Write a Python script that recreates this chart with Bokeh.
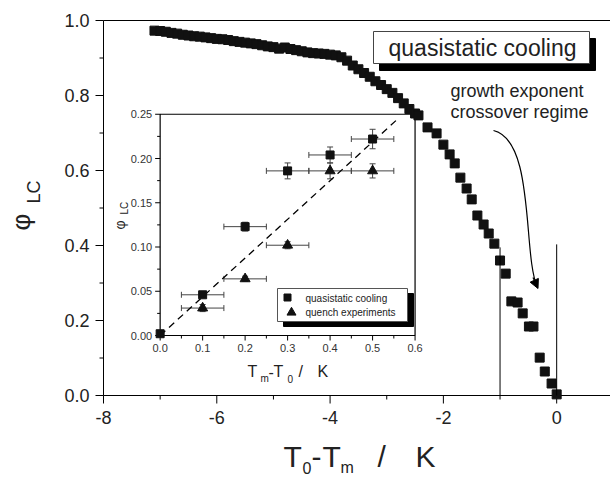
import numpy as np
from bokeh.plotting import figure
from bokeh.models import Range1d, Whisker, TeeHead, ColumnDataSource, Arrow, NormalHead
from bokeh.core.properties import value
from bokeh.embed import file_html
from bokeh.resources import INLINE

# ---------------- main data (T0 - Tm in K, phi_LC) ----------------
t0_minus_tm = [-7.1, -7.0, -6.9, -6.8, -6.7, -6.6, -6.5, -6.4, -6.3, -6.2, -6.1, -6.0,
               -5.9, -5.8, -5.7, -5.6, -5.5, -5.4, -5.3, -5.2, -5.1, -5.0, -4.9, -4.8,
               -4.7, -4.6, -4.5, -4.4, -4.3, -4.2, -4.1, -4.0, -3.9, -3.8, -3.7, -3.6,
               -3.5, -3.4, -3.3, -3.2, -3.1, -3.0, -2.9, -2.8, -2.7, -2.6, -2.5, -2.44,
               -2.28, -2.12, -2.0, -1.89, -1.8, -1.7, -1.59, -1.5, -1.4, -1.29, -1.2,
               -1.1, -1.0, -0.9, -0.8, -0.69, -0.6, -0.49, -0.41, -0.3, -0.21, -0.09, 0.0]
phi_lc = [0.973, 0.972, 0.970, 0.967, 0.965, 0.962, 0.960, 0.958, 0.957, 0.955, 0.953, 0.951,
          0.950, 0.948, 0.945, 0.943, 0.941, 0.939, 0.937, 0.934, 0.931, 0.929, 0.925, 0.928,
          0.924, 0.921, 0.918, 0.915, 0.913, 0.912, 0.911, 0.909, 0.907, 0.902, 0.893, 0.880,
          0.870, 0.860, 0.850, 0.838, 0.828, 0.817, 0.807, 0.793, 0.779, 0.764, 0.752, 0.747,
          0.715, 0.699, 0.669, 0.643, 0.619, 0.581, 0.552, 0.523, 0.480, 0.456, 0.432,
          0.405, 0.360, 0.325, 0.251, 0.248, 0.219, 0.184, 0.184, 0.101, 0.064, 0.032, 0.003]

# crossover regime markers
marker_x = [-1.0, 0.0]
marker_top = [0.395, 0.403]

# main axes
main_x_range = (-8.0, 0.95)
main_y_range = (0.0, 1.0)
main_x_major = [-8, -6, -4, -2, 0]
main_x_minor = [-7, -5, -3, -1]
main_y_major = [0.0, 0.2, 0.4, 0.6, 0.8, 1.0]
main_y_minor = [0.1, 0.3, 0.5, 0.7, 0.9]

# ---------------- inset data (Tm - T0 in K, phi_LC) ----------------
quasi_dT = [0.0, 0.1, 0.2, 0.3, 0.4, 0.5]
quasi_phi = [0.002, 0.046, 0.123, 0.186, 0.204, 0.222]
quasi_dT_err = [0.0, 0.05, 0.05, 0.05, 0.05, 0.05]
quasi_phi_err = [0.0, 0.002, 0.005, 0.009, 0.009, 0.011]
quench_dT = [0.1, 0.2, 0.3, 0.4, 0.5]
quench_phi = [0.031, 0.064, 0.102, 0.186, 0.186]
quench_dT_err = [0.05, 0.05, 0.05, 0.05, 0.05]
quench_phi_err = [0.004, 0.003, 0.004, 0.009, 0.008]
fit_dT = [0.0, 0.56]
fit_phi = [0.0, 0.245]

inset_x_range = (0.0, 0.6)
inset_y_range = (0.0, 0.25)
inset_x_major = [0.0, 0.1, 0.2, 0.3, 0.4, 0.5, 0.6]
inset_x_minor = [0.05, 0.15, 0.25, 0.35, 0.45, 0.55]
inset_y_major = [0.0, 0.05, 0.10, 0.15, 0.20, 0.25]
inset_y_minor = [0.025, 0.075, 0.125, 0.175, 0.225]

# ---------------- layout (pixel geometry of the picture) ----------------
FONT = "Liberation Sans"
TXT = "#222222"
W, H = 610, 477
AX_L, AX_R, AX_T, AX_B = 103, 610, 20, 395   # main axes box in pixels
X0, X1 = main_x_range
Y0, Y1 = main_y_range
MPX = (AX_R - AX_L) / (X1 - X0)
MPY = (AX_B - AX_T) / (Y1 - Y0)
VX0 = X0 - AX_L / MPX
VX1 = X1 + (W - AX_R) / MPX
VY0 = Y0 - (H - AX_B) / MPY
VY1 = Y1 + AX_T / MPY


def mx(px):  # picture pixel -> main data x
    return X0 + (px - AX_L) / MPX


def my(py):  # picture pixel -> main data y
    return Y1 - (py - AX_T) / MPY


# inset box placement in main data coordinates
IBX = (-7.0, -2.5)
IBY = (0.16, 0.75)
sx = (IBX[1] - IBX[0]) / (inset_x_range[1] - inset_x_range[0])
sy = (IBY[1] - IBY[0]) / (inset_y_range[1] - inset_y_range[0])
IPX = MPX * sx
IPY = MPY * sy

p = figure(width=W, height=H, x_range=Range1d(VX0, VX1), y_range=Range1d(VY0, VY1),
           output_backend="svg", toolbar_location=None, x_axis_type=None, y_axis_type=None,
           min_border_left=0, min_border_right=0, min_border_top=0, min_border_bottom=0)
p.extra_x_ranges = {"ix": Range1d(inset_x_range[0] + (VX0 - IBX[0]) / sx,
                                  inset_x_range[0] + (VX1 - IBX[0]) / sx)}
p.extra_y_ranges = {"iy": Range1d(inset_y_range[0] + (VY0 - IBY[0]) / sy,
                                  inset_y_range[0] + (VY1 - IBY[0]) / sy)}
p.grid.visible = False
p.outline_line_color = None
p.background_fill_color = "white"
p.border_fill_color = "white"


def txt(x, y, s, size, align="left", angle=0.0, color=TXT, **kw):
    p.text(x=x, y=y, text=s, angle=angle, text_align=align, text_baseline="middle",
           text_font=value(FONT), text_font_size=f"{size}px", text_color=color, **kw)


# ---------------- main axes ----------------
p.segment(x0=[X0, X0, X0], y0=[Y0, Y0, Y1], x1=[X0, X1, X1], y1=[Y1, Y0, Y1],
          line_color="black", line_width=1)
p.segment(x0=main_x_major, y0=[Y0] * len(main_x_major), x1=main_x_major,
          y1=[Y0 - 8 / MPY] * len(main_x_major), line_color="black", line_width=1)
p.segment(x0=main_x_minor, y0=[Y0] * len(main_x_minor), x1=main_x_minor,
          y1=[Y0 - 4 / MPY] * len(main_x_minor), line_color="black", line_width=1)
p.segment(x0=[X0] * len(main_y_major), y0=main_y_major, x1=[X0 - 8 / MPX] * len(main_y_major),
          y1=main_y_major, line_color="black", line_width=1)
p.segment(x0=[X0] * len(main_y_minor), y0=main_y_minor, x1=[X0 - 4 / MPX] * len(main_y_minor),
          y1=main_y_minor, line_color="black", line_width=1)
txt(main_x_major, [Y0 - 22 / MPY] * len(main_x_major), [f"{v:d}" for v in main_x_major], 18, "center")
txt([X0 - 14 / MPX] * len(main_y_major), main_y_major, [f"{v:.1f}" for v in main_y_major], 18, "right")

# main axis titles (rotated text anchored at its start, i.e. its lower end)
txt([mx(20)], [my(230)], ["φ"], 26, "left", np.pi / 2)
txt([mx(33)], [my(203)], ["LC"], 18, "left", np.pi / 2)
main_xt = [("T", 283, 456, 30), ("0", 302, 467, 16), ("-", 311, 456, 30), ("T", 322, 456, 30),
           ("m", 340, 467, 16), ("/", 377, 456, 30), ("K", 415, 456, 30)]
for t, px, py, fs in main_xt:
    txt([mx(px)], [my(py)], [t], fs)

IR = dict(x_range_name="ix", y_range_name="iy")

# ---------------- inset ----------------
p.quad(left=[inset_x_range[0]], right=[inset_x_range[1]], bottom=[inset_y_range[0]],
       top=[inset_y_range[1]], fill_color=None, line_color="black", line_width=1.2, **IR)


def ticks_x(vals, length):
    p.segment(x0=vals, y0=[inset_y_range[0]] * len(vals), x1=vals,
              y1=[inset_y_range[0] - length / IPY] * len(vals), line_color="black", line_width=1, **IR)


def ticks_y(vals, length):
    p.segment(x0=[inset_x_range[0]] * len(vals), y0=vals,
              x1=[inset_x_range[0] - length / IPX] * len(vals), y1=vals, line_color="black", line_width=1, **IR)


ticks_x(inset_x_major, 5)
ticks_x(inset_x_minor, 3)
ticks_y(inset_y_major, 5)
ticks_y(inset_y_minor, 3)

txt(inset_x_major, [inset_y_range[0] - 12 / IPY] * len(inset_x_major),
    [f"{v:.1f}" for v in inset_x_major], 11, "center", color="#333333", **IR)
txt([inset_x_range[0] - 8 / IPX] * len(inset_y_major), inset_y_major,
    [f"{v:.2f}" for v in inset_y_major], 11, "right", color="#333333", **IR)

# dashed fit
p.line(fit_dT, fit_phi, line_color="black", line_width=1.3, line_dash="7 5", **IR)


def add_err(xs, ys, xe, ye):
    xb = [(x, y, e) for x, y, e in zip(xs, ys, xe) if e > 0]
    yb = [(x, y, e) for x, y, e in zip(xs, ys, ye) if e > 0]
    sx_src = ColumnDataSource(dict(base=[b[1] for b in xb], lo=[b[0] - b[2] for b in xb],
                                   hi=[b[0] + b[2] for b in xb]))
    sy_src = ColumnDataSource(dict(base=[b[0] for b in yb], lo=[b[1] - b[2] for b in yb],
                                   hi=[b[1] + b[2] for b in yb]))
    for src, dim in ((sx_src, "width"), (sy_src, "height")):
        w = Whisker(source=src, base="base", lower="lo", upper="hi", dimension=dim,
                    line_color="#444444", line_width=1,
                    upper_head=TeeHead(size=6, line_color="#444444", line_width=1),
                    lower_head=TeeHead(size=6, line_color="#444444", line_width=1), **IR)
        p.add_layout(w)


add_err(quasi_dT, quasi_phi, quasi_dT_err, quasi_phi_err)
add_err(quench_dT, quench_phi, quench_dT_err, quench_phi_err)

p.scatter(quasi_dT, quasi_phi, marker="square", size=8, color="#111111", **IR)
p.scatter(quench_dT, quench_phi, marker="triangle", size=10, color="#111111", **IR)

# inset legend (with drop shadow)
LB = dict(l=277, r=407, t=288, b=321)
p.quad(left=[mx(LB["l"] + 6)], right=[mx(LB["r"] + 6)], top=[my(LB["t"] + 5)], bottom=[my(LB["b"] + 5)],
       fill_color="black", line_color="black")
p.quad(left=[mx(LB["l"])], right=[mx(LB["r"])], top=[my(LB["t"])], bottom=[my(LB["b"])],
       fill_color="white", line_color="#555555", line_width=1)
p.scatter([mx(287)], [my(297)], marker="square", size=7, color="#111111")
p.scatter([mx(291)], [my(312)], marker="triangle", size=9, color="#111111")
txt([mx(305), mx(305)], [my(298), my(312)], ["quasistatic cooling", "quench experiments"], 10)

# inset axis titles
txt([mx(119)], [my(229)], ["φ"], 14, "left", np.pi / 2)
txt([mx(124)], [my(214)], ["LC"], 10, "left", np.pi / 2)
inset_xt = [("T", 247, 371, 16), ("m", 260, 378, 10), ("-", 268, 371, 16), ("T", 273, 371, 16),
            ("0", 287, 378, 10), ("/", 298, 371, 16), ("K", 317, 371, 16)]
for t, px, py, fs in inset_xt:
    txt([mx(px)], [my(py)], [t], fs)

# ---------------- main curve ----------------
p.scatter(t0_minus_tm, phi_lc, marker="square", size=9, color="#111111")

# crossover markers
p.segment(x0=marker_x, y0=[0.0] * len(marker_x), x1=marker_x, y1=marker_top,
          line_color="black", line_width=1)

# annotation box with shadow
BX = dict(l=373, r=589, t=31, b=63)
p.quad(left=[mx(BX["l"] + 6)], right=[mx(BX["r"] + 6)], top=[my(BX["t"] + 7)], bottom=[my(BX["b"] + 7)],
       fill_color="black", line_color="black")
p.quad(left=[mx(BX["l"])], right=[mx(BX["r"])], top=[my(BX["t"])], bottom=[my(BX["b"])],
       fill_color="white", line_color="#444444", line_width=1)
txt([mx(482)], [my(47)], ["quasistatic cooling"], 23, "center")
txt([mx(450), mx(450)], [my(90), my(111)], ["growth exponent", "crossover regime"], 18)

# curved arrow
p.bezier(x0=[mx(493)], y0=[my(130)], x1=[mx(537)], y1=[my(287)],
         cx0=[mx(535)], cy0=[my(140)], cx1=[mx(522)], cy1=[my(255)],
         line_color="black", line_width=1.2)
p.add_layout(Arrow(end=NormalHead(size=9, fill_color="black", line_color="black", line_width=1),
                   x_start=mx(532.5), y_start=my(277), x_end=mx(537.5), y_end=my(288),
                   line_color="black", line_width=1.2))

open("out.html", "w").write(file_html(p, INLINE))
